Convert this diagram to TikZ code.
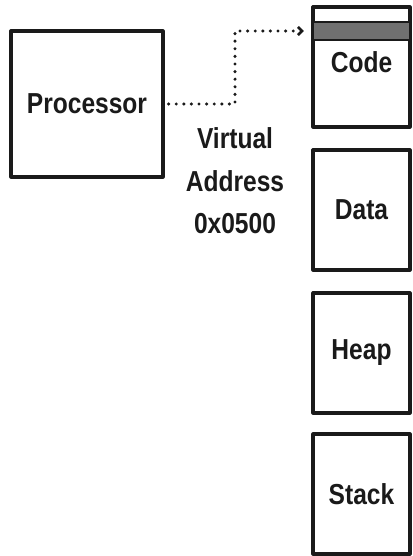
\documentclass[tikz,border=0pt]{standalone}
\usepackage{fontspec}
\setmainfont{Liberation Sans}
\usepackage{graphicx}
\usetikzlibrary{arrows.meta, calc}
\definecolor{inkC}{HTML}{1A1A1A}
\definecolor{bandC}{HTML}{707070}
\definecolor{paperC}{HTML}{FFFFFF}
\newcommand{\cond}[1]{\scalebox{0.85}[1]{#1}}

\begin{document}
\begin{tikzpicture}[
  x=1bp,
  y=-1bp,
  line cap=round,
  line join=round,
  box/.style={draw=inkC, line width=3.2bp, inner sep=0pt,
    minimum width=97bp, minimum height=120bp},
  lbl/.style={font=\fontsize{29}{42.5}\selectfont\bfseries, text=inkC, inner sep=0pt}
]

% Page
\fill[paperC] (0,0) rectangle (412,556);
\useasboundingbox (0,0) rectangle (412,556);

% Processor
\node[box, minimum width=152bp, minimum height=146bp, lbl] (proc) at (87,104) {\cond{Processor}};

% Memory segments
\node[box] (code) at (361.5,67) {};
\node[draw=inkC, fill=bandC, line width=2.4bp, inner sep=0pt,
  minimum width=97bp, minimum height=18bp] (codeband) at (361.5,31) {};
\node[lbl] (codelbl) at (361.5,62) {\cond{Code}};
\node[box, lbl] (data) at (361.5,210) {\cond{Data}};
\node[box, lbl] (heap) at (361.5,353) {\cond{Heap}};
\node[box, lbl] (stack) at (361.5,494) {\cond{Stack}};

% Virtual address
\node[lbl, align=center] (vaddr) at (235,181) {\cond{Virtual}\\\cond{Address}\\\cond{0x0500}};

% Lookup path
\coordinate (bend) at (235,31);
\draw[inkC, line width=3.4bp, dash pattern=on 0bp off 7.6bp,
  -{Straight Barb[length=4bp, width=8bp, line width=2.6bp]}, shorten <=4bp, shorten >=8bp]
  (proc.east) -| (bend) -- (codeband.west);

\end{tikzpicture}
\end{document}
